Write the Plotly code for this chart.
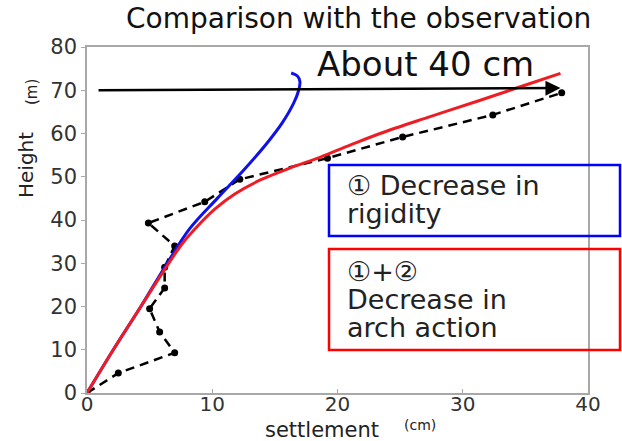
import plotly.graph_objects as go

# ---- data ----
obs_x = [0, 2.5, 7.0, 5.8, 5.0, 6.2, 6.2, 7.0, 4.9, 9.4, 12.2, 19.2, 25.2, 32.4, 37.9]
obs_y = [0, 4.6, 9.3, 14.1, 19.5, 24.3, 29.1, 34.0, 39.3, 44.2, 49.4, 54.3, 59.2, 64.3, 69.4]

blue_x = [0, 2.1, 4.3, 6.4, 8.2, 10.4, 12.5, 14.3, 15.6, 16.5, 16.9, 17.0, 16.8, 16.3]
blue_y = [0, 10, 20, 30, 38, 45, 51.5, 57.5, 62.5, 67, 70, 72, 73.3, 74]

red_x = [0, 2.1, 4.3, 6.3, 7.6, 8.8, 10.2, 11.8, 13.8, 16.2, 18.6, 21, 23.4, 27.4, 31.4, 34.6, 37.8]
red_y = [0, 10, 20, 29, 34.5, 38.5, 42.5, 46, 49.2, 52, 54.5, 57.3, 60, 63.9, 67.7, 70.8, 73.9]

x_ticks = [0, 10, 20, 30, 40]
y_ticks = [0, 10, 20, 30, 40, 50, 60, 70, 80]

arrow_start = [0.8, 70.0]
arrow_end = [37.8, 70.5]

title_text = "Comparison with the observation"
arrow_text = "About 40 cm"
blue_lines = ["① Decrease in", "rigidity"]
red_lines = ["①+②", "Decrease in", "arch action"]

# ---- layout geometry ----
W, H = 622, 441
L, R, T, B = 87, 34, 47, 48
PW, PH = W - L - R, H - T - B


def px(x):
    return (x - L) / PW


def py(y):
    return (H - B - y) / PH


FONT = "DejaVu Sans"
TXT = "#222222"


def label(xp, yp, text, size, color=TXT, angle=0, xanchor="center"):
    return dict(x=px(xp), y=py(yp), xref="paper", yref="paper", text=text,
                textangle=angle, showarrow=False, xanchor=xanchor, yanchor="middle",
                font=dict(family=FONT, size=size, color=color))


fig = go.Figure()
fig.add_trace(go.Scatter(x=obs_x, y=obs_y, mode="lines+markers",
                         line=dict(color="black", width=2.5, dash="9px,6px"),
                         marker=dict(color="black", size=7), showlegend=False))
fig.add_trace(go.Scatter(x=blue_x, y=blue_y, mode="lines",
                         line=dict(color="#1010e8", width=3, shape="spline"),
                         showlegend=False))
fig.add_trace(go.Scatter(x=red_x, y=red_y, mode="lines",
                         line=dict(color="#f01c24", width=3, shape="spline"),
                         showlegend=False))

annotations = [
    dict(x=arrow_end[0], y=arrow_end[1], ax=arrow_start[0], ay=arrow_start[1],
         xref="x", yref="y", axref="x", ayref="y", text="", showarrow=True,
         arrowhead=2, arrowsize=1.2, arrowwidth=2.5, arrowcolor="black"),
    label(425, 64, arrow_text, 34, "#111"),
    label(358, 19, title_text, 28, "#111"),
    label(26, 165, "Height", 20, angle=-90),
    label(32, 92, "(m)", 15, angle=-90),
    label(322, 430, "settlement", 21),
    label(420, 425, "(cm)", 14),
]
for txt, yc in zip(blue_lines, [185, 213]):
    annotations.append(label(345, yc, txt, 27, xanchor="left"))
for txt, yc in zip(red_lines, [271, 299, 327]):
    annotations.append(label(345, yc, txt, 27, xanchor="left"))

shapes = [
    dict(type="rect", xref="paper", yref="paper", x0=px(329), x1=px(620),
         y0=py(236), y1=py(165), line=dict(color="#0000ff", width=2.5)),
    dict(type="rect", xref="paper", yref="paper", x0=px(329), x1=px(620),
         y0=py(350), y1=py(249), line=dict(color="#ff0000", width=2.5)),
]

axis_common = dict(showgrid=False, zeroline=False, showline=True, linecolor="#a8a8a8",
                   linewidth=1.5, mirror=True, ticklen=4, tickcolor="#a8a8a8",
                   tickfont=dict(family=FONT, size=21, color="#333"))

fig.update_layout(
    width=W, height=H, margin=dict(l=L, r=R, t=T, b=B),
    paper_bgcolor="white", plot_bgcolor="white",
    xaxis=dict(range=[0, 40], tickvals=x_ticks, ticks="inside",
               ticklabelstandoff=-8, **axis_common),
    yaxis=dict(range=[0, 80], tickvals=y_ticks, ticks="outside", **axis_common),
    annotations=annotations, shapes=shapes, showlegend=False,
)
fig.update_xaxes(tickfont=dict(family=FONT, size=20, color="#333"))

fig.write_html("out.html")
